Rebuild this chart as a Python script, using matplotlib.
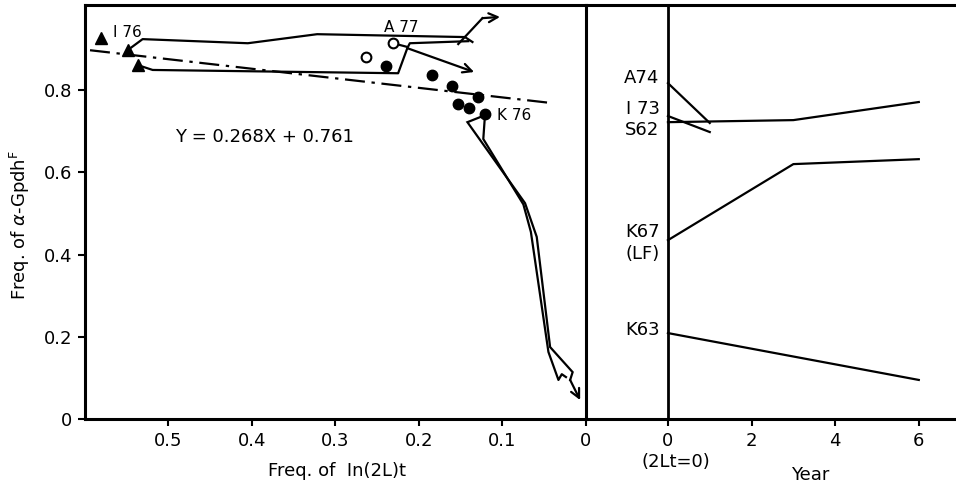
import matplotlib
matplotlib.use('Agg')
import matplotlib.pyplot as plt

# ---- left panel: freq of In(2L)t vs freq of a-Gpdh F ----
tri_x = [0.581, 0.549, 0.537]
tri_y = [0.926, 0.897, 0.861]
open_x = [0.264, 0.231]
open_y = [0.880, 0.914]
dot_x = [0.240, 0.184, 0.160, 0.129, 0.153, 0.140, 0.121]
dot_y = [0.858, 0.836, 0.810, 0.783, 0.766, 0.756, 0.742]

# regression Y = 0.268X + 0.761 (end points as drawn)
reg_x = [0.594, 0.039]
reg_y = [0.897, 0.768]

# tracks
upper_x = [0.549, 0.531, 0.405, 0.322, 0.145, 0.136]
upper_y = [0.897, 0.924, 0.914, 0.936, 0.929, 0.917]
lower_x = [0.537, 0.519, 0.225, 0.214, 0.211, 0.141]
lower_y = [0.861, 0.849, 0.841, 0.902, 0.914, 0.919]
stub_x = [0.231, 0.214]
stub_y = [0.914, 0.905]
hook_x = [0.153, 0.124, 0.103]
hook_y = [0.912, 0.975, 0.978]
side_x = [0.214, 0.134]
side_y = [0.902, 0.844]
down1_x = [0.121, 0.142, 0.073, 0.059, 0.043, 0.016, 0.019, 0.007]
down1_y = [0.739, 0.722, 0.525, 0.443, 0.175, 0.114, 0.095, 0.046]
down2_x = [0.121, 0.123, 0.075, 0.066, 0.045, 0.033, 0.029, 0.024]
down2_y = [0.739, 0.681, 0.522, 0.455, 0.163, 0.095, 0.109, 0.102]

xticks_left = [0.5, 0.4, 0.3, 0.2, 0.1, 0]
xlabels_left = ['0.5', '0.4', '0.3', '0.2', '0.1', '0']
yticks_left = [0, 0.2, 0.4, 0.6, 0.8]
ylabels_left = ['0', '0.2', '0.4', '0.6', '0.8']

# ---- right panel: populations with 2Lt = 0 over years ----
a74_yr = [0, 1]
a74 = [0.817, 0.720]
i73_yr = [0, 1]
i73 = [0.737, 0.698]
s62_yr = [0, 3, 6]
s62 = [0.722, 0.727, 0.771]
k67_yr = [0, 3, 6]
k67 = [0.435, 0.620, 0.632]
k63_yr = [0, 6]
k63 = [0.209, 0.095]
year_ticks = [0, 2, 4, 6]

LW = 1.6
FS = 13

W, H = 956, 491
fig = plt.figure(figsize=(W / 100, H / 100), dpi=100)
ax2 = fig.add_axes([586 / W, 1 - 419 / H, (956 - 586) / W, (419 - 5) / H])
ax1 = fig.add_axes([85 / W, 1 - 419 / H, (586 - 85) / W, (419 - 5) / H])
ax1.patch.set_visible(False)


def arrow(ax, xs, ys):
    ax.plot(xs[:-1], ys[:-1], color='k', lw=LW, solid_joinstyle='miter')
    ax.annotate('', xy=(xs[-1], ys[-1]), xytext=(xs[-2], ys[-2]),
                arrowprops=dict(arrowstyle='->', color='k', lw=LW,
                                mutation_scale=16, shrinkA=0, shrinkB=0))


# left panel
ax1.plot(reg_x, reg_y, color='k', lw=LW, dashes=(9, 3, 1.5, 3))
ax1.plot(upper_x, upper_y, color='k', lw=LW)
ax1.plot(lower_x, lower_y, color='k', lw=LW)
ax1.plot(stub_x, stub_y, color='k', lw=LW)
arrow(ax1, hook_x, hook_y)
arrow(ax1, side_x, side_y)
arrow(ax1, down1_x, down1_y)
ax1.plot(down2_x, down2_y, color='k', lw=LW)

ax1.plot(tri_x, tri_y, '^', color='k', ms=9, zorder=5)
ax1.plot(dot_x, dot_y, 'o', color='k', ms=7.5, zorder=5)
ax1.plot(open_x, open_y, 'o', mfc='white', mec='k', mew=1.5, ms=7, zorder=6)

ax1.text(0.567, 0.941, 'I 76', fontsize=11, ha='left', va='center')
ax1.text(0.221, 0.953, 'A 77', fontsize=11, ha='center', va='center')
ax1.text(0.106, 0.739, 'K 76', fontsize=11, ha='left', va='center')
ax1.text(0.492, 0.686, 'Y = 0.268X + 0.761', fontsize=FS, ha='left', va='center')

ax1.set_xlim(0.6, 0)
ax1.set_ylim(0, 1.007)
ax1.set_xticks(xticks_left)
ax1.set_xticklabels(xlabels_left)
ax1.set_yticks(yticks_left)
ax1.set_yticklabels(ylabels_left)

# right panel
for yr, vals in [(a74_yr, a74), (i73_yr, i73), (s62_yr, s62),
                 (k67_yr, k67), (k63_yr, k63)]:
    ax2.plot(yr, vals, color='k', lw=LW)
ax2.axvline(0, color='k', lw=2.0)

for lab, yv in [('A74', 0.829), ('I 73', 0.754), ('S62', 0.703),
                ('K67', 0.455), ('(LF)', 0.401), ('K63', 0.216)]:
    ax2.text(-0.2, yv, lab, fontsize=FS, ha='right', va='center')

ax2.set_xlim(-1.96, 6.89)
ax2.set_ylim(0, 1.007)
ax2.set_xticks(year_ticks)
ax2.set_xticklabels([str(t) for t in year_ticks])
ax2.set_yticks([])
ax2.spines['left'].set_visible(False)
ax2.spines['right'].set_visible(False)

for ax in (ax1, ax2):
    for s in ax.spines.values():
        s.set_linewidth(2.2)
    ax.tick_params(direction='out', length=5, width=1.5, labelsize=FS, pad=4)

fig.text(337 / W, 1 - 471 / H, 'Freq. of  In(2L)t', fontsize=FS,
         ha='center', va='center')
fig.text(20 / W, 1 - 225 / H, r'Freq. of $\alpha$-Gpdh$^{\mathrm{F}}$',
         fontsize=FS, rotation=90, ha='center', va='center')
fig.text(676 / W, 1 - 462 / H, '(2Lt=0)', fontsize=FS, ha='center', va='center')
fig.text(810 / W, 1 - 475 / H, 'Year', fontsize=FS, ha='center', va='center')

fig.savefig('out.png', dpi=100)
